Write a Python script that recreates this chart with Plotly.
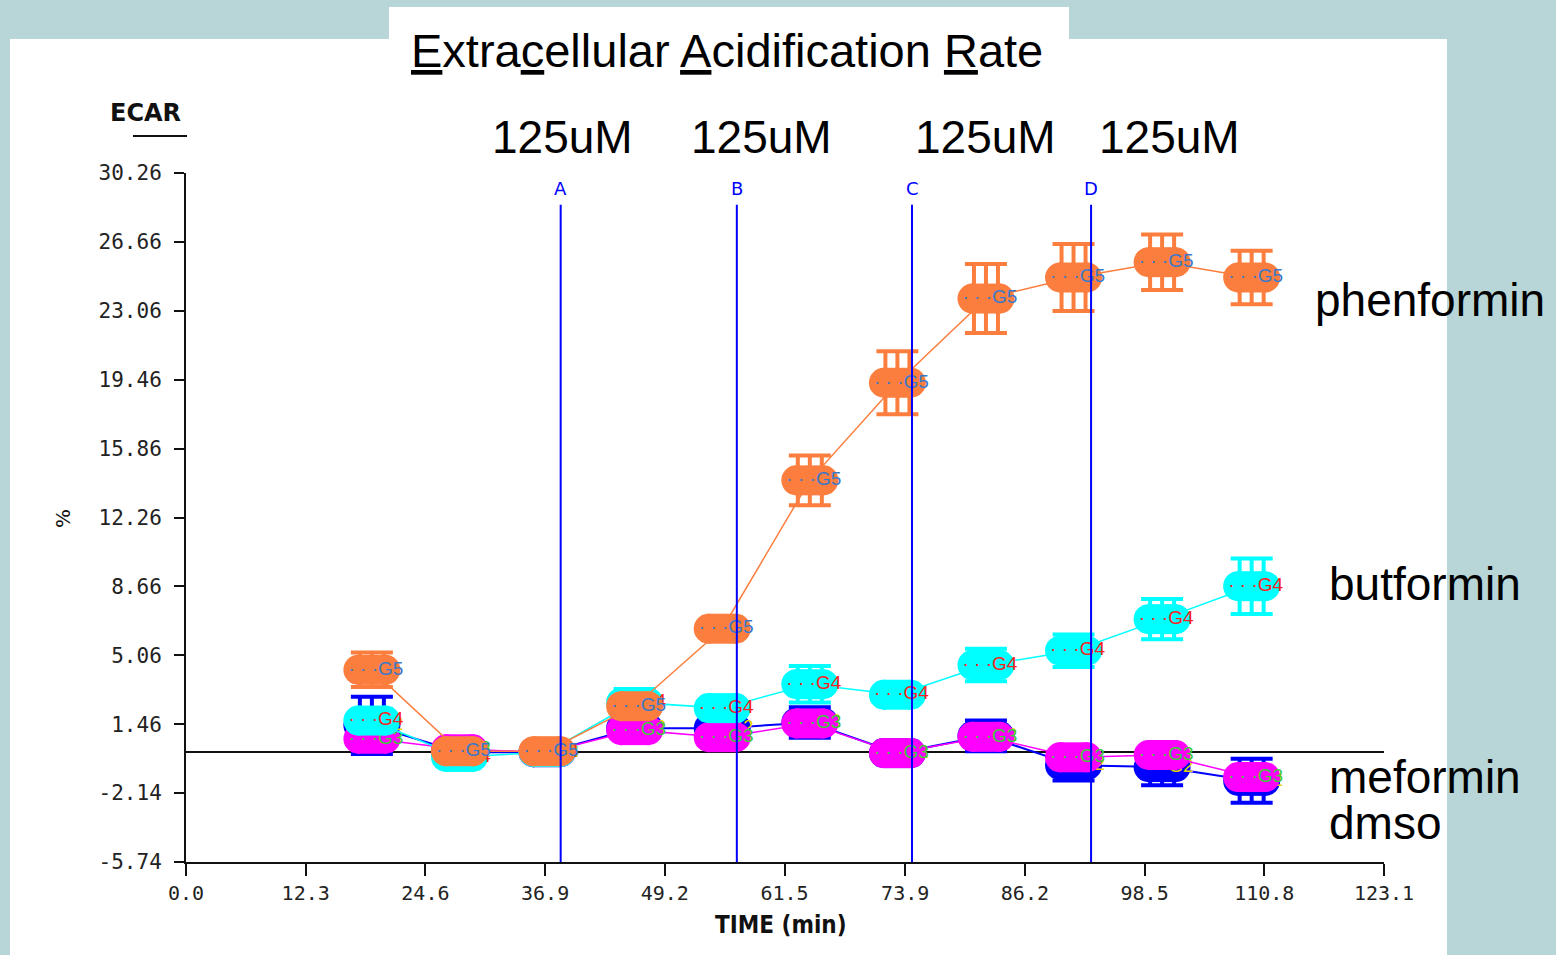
import plotly.graph_objects as go

# ---- data -----------------------------------------------------------------
time_min = [19.1, 28.1, 37.1, 46.1, 55.1, 64.1, 73.1, 82.2, 91.2, 100.3, 109.5]

phenformin = [4.3, 0.05, 0.05, 2.4, 6.45, 14.2, 19.3, 23.7, 24.8, 25.6, 24.8]
phenformin_err = [0.9, 0.4, 0.3, 0.5, 0.6, 1.3, 1.65, 1.8, 1.75, 1.45, 1.4]

butformin = [1.65, -0.25, 0.0, 2.6, 2.3, 3.55, 3.0, 4.55, 5.3, 6.95, 8.67]
butformin_err = [0.6, 0.4, 0.3, 0.7, 0.6, 0.95, 0.6, 0.85, 0.85, 1.05, 1.45]

meformin = [0.7, 0.15, 0.0, 1.15, 0.78, 1.5, -0.05, 0.8, -0.27, -0.15, -1.3]
meformin_err = [0.5, 0.3, 0.3, 0.5, 0.5, 0.5, 0.5, 0.5, 0.5, 0.5, 0.5]

dmso = [1.4, 0.0, 0.0, 1.25, 1.25, 1.55, -0.05, 0.85, -0.68, -0.78, -1.5]
dmso_err = [1.5, 0.4, 0.3, 0.6, 0.8, 0.8, 0.6, 0.8, 0.8, 0.95, 1.15]

injection_times = [38.5, 56.6, 74.6, 93.0]
injection_ports = ["A", "B", "C", "D"]
injection_dose = ["125uM", "125uM", "125uM", "125uM"]

x_ticks = [0.0, 12.3, 24.6, 36.9, 49.2, 61.5, 73.9, 86.2, 98.5, 110.8, 123.1]
x_tick_text = ["0.0", "12.3", "24.6", "36.9", "49.2", "61.5", "73.9", "86.2", "98.5", "110.8", "123.1"]
y_ticks = [30.26, 26.66, 23.06, 19.46, 15.86, 12.26, 8.66, 5.06, 1.46, -2.14, -5.74]
y_tick_text = ["30.26", "26.66", "23.06", "19.46", "15.86", "12.26", "8.66", "5.06", "1.46", "-2.14", "-5.74"]

# ---- geometry of the page -------------------------------------------------
W, H = 1556, 955
L, R, T, B = 186, 1384, 173, 862          # plot area in page pixels
X_RANGE = [0.0, 123.1]
Y_RANGE = [-5.74, 30.26]
PX_PER_MIN = (R - L) / (X_RANGE[1] - X_RANGE[0])


def paper_x(px):
    return (px - L) / (R - L)


def paper_y(py):
    return (B - py) / (B - T)


SANS = "Liberation Sans, Arial, sans-serif"
TICK_FONT = "DejaVu Sans Mono, monospace"

series = [
    # name, values, errors, body colour, label text, label colour, line width
    ("dmso", dmso, dmso_err, "#0000ff", "· · ·G2", "#e6d200", 2.0),
    ("meformin", meformin, meformin_err, "#ff00ff", "· · ·G3", "#3cc83c", 1.5),
    ("butformin", butformin, butformin_err, "#00ffff", "· · ·G4", "#ff2020", 1.5),
    ("phenformin", phenformin, phenformin_err, "#fc7e3e", "· · ·G5", "#3a78c8", 1.5),
]

fig = go.Figure()


def shifted(xs, px):
    return [x + px / PX_PER_MIN for x in xs]


for name, vals, errs, color, label, label_color, lw in series:
    # connecting line
    fig.add_trace(go.Scatter(
        x=time_min, y=vals, mode="lines",
        line=dict(color=color, width=lw), hoverinfo="skip", showlegend=False,
    ))
    # striped error bars: outer stripes without caps, centre stripe with caps
    for off, cap in ((-12, 0), (12, 0), (0, 21)):
        fig.add_trace(go.Scatter(
            x=shifted(time_min, off), y=vals, mode="markers",
            marker=dict(size=1, color="rgba(0,0,0,0)"),
            error_y=dict(type="data", array=errs, visible=True,
                         color=color, thickness=4, width=cap),
            hoverinfo="skip", showlegend=False,
        ))
    # rounded oblong body: two end circles plus a centre square
    for off, sym in ((-13.5, "circle"), (13.5, "circle"), (0, "square")):
        fig.add_trace(go.Scatter(
            x=shifted(time_min, off), y=vals, mode="markers",
            marker=dict(symbol=sym, size=30, color=color, line=dict(width=0)),
            name=name, hoverinfo="x+y+name", showlegend=False,
        ))
    # well-group label inside each point
    fig.add_trace(go.Scatter(
        x=shifted(time_min, 4), y=vals, mode="text",
        text=[label] * len(vals), textposition="middle center",
        textfont=dict(family=SANS, size=19, color=label_color),
        hoverinfo="skip", showlegend=False,
    ))

# injection markers
y_line_top = 28.6
for t in injection_times:
    fig.add_trace(go.Scatter(
        x=[t, t], y=[Y_RANGE[0], y_line_top], mode="lines",
        line=dict(color="#0000ff", width=2), hoverinfo="skip", showlegend=False,
    ))

annotations = []
for t, port in zip(injection_times, injection_ports):
    annotations.append(dict(
        x=t, y=29.45, xref="x", yref="y", text=port, showarrow=False,
        font=dict(family="DejaVu Sans, sans-serif", size=18, color="#0000ff"),
        xanchor="center", yanchor="middle",
    ))

dose_px = [562, 761, 985, 1169]
for px, dose in zip(dose_px, injection_dose):
    annotations.append(dict(
        x=paper_x(px), y=paper_y(137), xref="paper", yref="paper", text=dose,
        showarrow=False, font=dict(family=SANS, size=46, color="black"),
        xanchor="center", yanchor="middle",
    ))

annotations.append(dict(
    x=paper_x(727), y=paper_y(50), xref="paper", yref="paper",
    text="<u>E</u>xtra<u>c</u>ellular <u>A</u>cidification <u>R</u>ate",
    showarrow=False, font=dict(family=SANS, size=47, color="black"),
    xanchor="center", yanchor="middle",
))

# compound names beside the last time point
for txt, px, py in (("phenformin", 1313, 300), ("butformin", 1327, 584),
                    ("meformin", 1327, 777), ("dmso", 1327, 823)):
    annotations.append(dict(
        x=paper_x(px), y=paper_y(py), xref="paper", yref="paper", text=txt,
        showarrow=False, font=dict(family=SANS, size=46, color="black"),
        xanchor="left", yanchor="middle",
    ))

annotations += [
    dict(x=paper_x(145), y=paper_y(113), xref="paper", yref="paper",
         text="<b>ECAR</b>", showarrow=False,
         font=dict(family="DejaVu Sans, sans-serif", size=24, color="#111"),
         xanchor="center", yanchor="middle"),
    dict(x=paper_x(63), y=paper_y(518), xref="paper", yref="paper",
         text="%", textangle=-90, showarrow=False,
         font=dict(family="DejaVu Sans, sans-serif", size=20, color="#111"),
         xanchor="center", yanchor="middle"),
    dict(x=paper_x(781), y=paper_y(925), xref="paper", yref="paper",
         text="<b>TIME (min)</b>", showarrow=False,
         font=dict(family="DejaVu Sans Condensed, DejaVu Sans, sans-serif", size=24, color="#111"),
         xanchor="center", yanchor="middle"),
]

shapes = [
    # white slide panel and title tab
    dict(type="rect", xref="paper", yref="paper", layer="below",
         x0=paper_x(10), x1=paper_x(1447), y0=paper_y(960), y1=paper_y(39),
         fillcolor="white", line=dict(width=0)),
    dict(type="rect", xref="paper", yref="paper", layer="below",
         x0=paper_x(389), x1=paper_x(1069), y0=paper_y(40), y1=paper_y(7),
         fillcolor="white", line=dict(width=0)),
    # rule under the ECAR heading
    dict(type="line", xref="paper", yref="paper",
         x0=paper_x(133), x1=paper_x(187), y0=paper_y(136), y1=paper_y(136),
         line=dict(color="#111", width=2)),
]

fig.update_layout(
    width=W, height=H, autosize=False,
    margin=dict(l=L, r=W - R, t=T, b=H - B, pad=0),
    paper_bgcolor="#b8d6d8", plot_bgcolor="rgba(0,0,0,0)",
    showlegend=False,
    annotations=annotations, shapes=shapes,
    xaxis=dict(
        range=X_RANGE, tickmode="array", tickvals=x_ticks, ticktext=x_tick_text,
        showgrid=False, zeroline=False, showline=True, linecolor="#111", linewidth=2,
        ticks="outside", ticklen=12, tickwidth=2, tickcolor="#111",
        tickfont=dict(family=TICK_FONT, size=20, color="#222"),
    ),
    yaxis=dict(
        range=Y_RANGE, tickmode="array", tickvals=y_ticks, ticktext=y_tick_text,
        showgrid=False, zeroline=True, zerolinecolor="#111", zerolinewidth=2,
        showline=True, linecolor="#111", linewidth=2,
        ticks="outside", ticklen=10, tickwidth=2, tickcolor="#111",
        ticklabelstandoff=8,
        tickfont=dict(family=TICK_FONT, size=21, color="#222"),
    ),
)

fig.write_html("out.html")
